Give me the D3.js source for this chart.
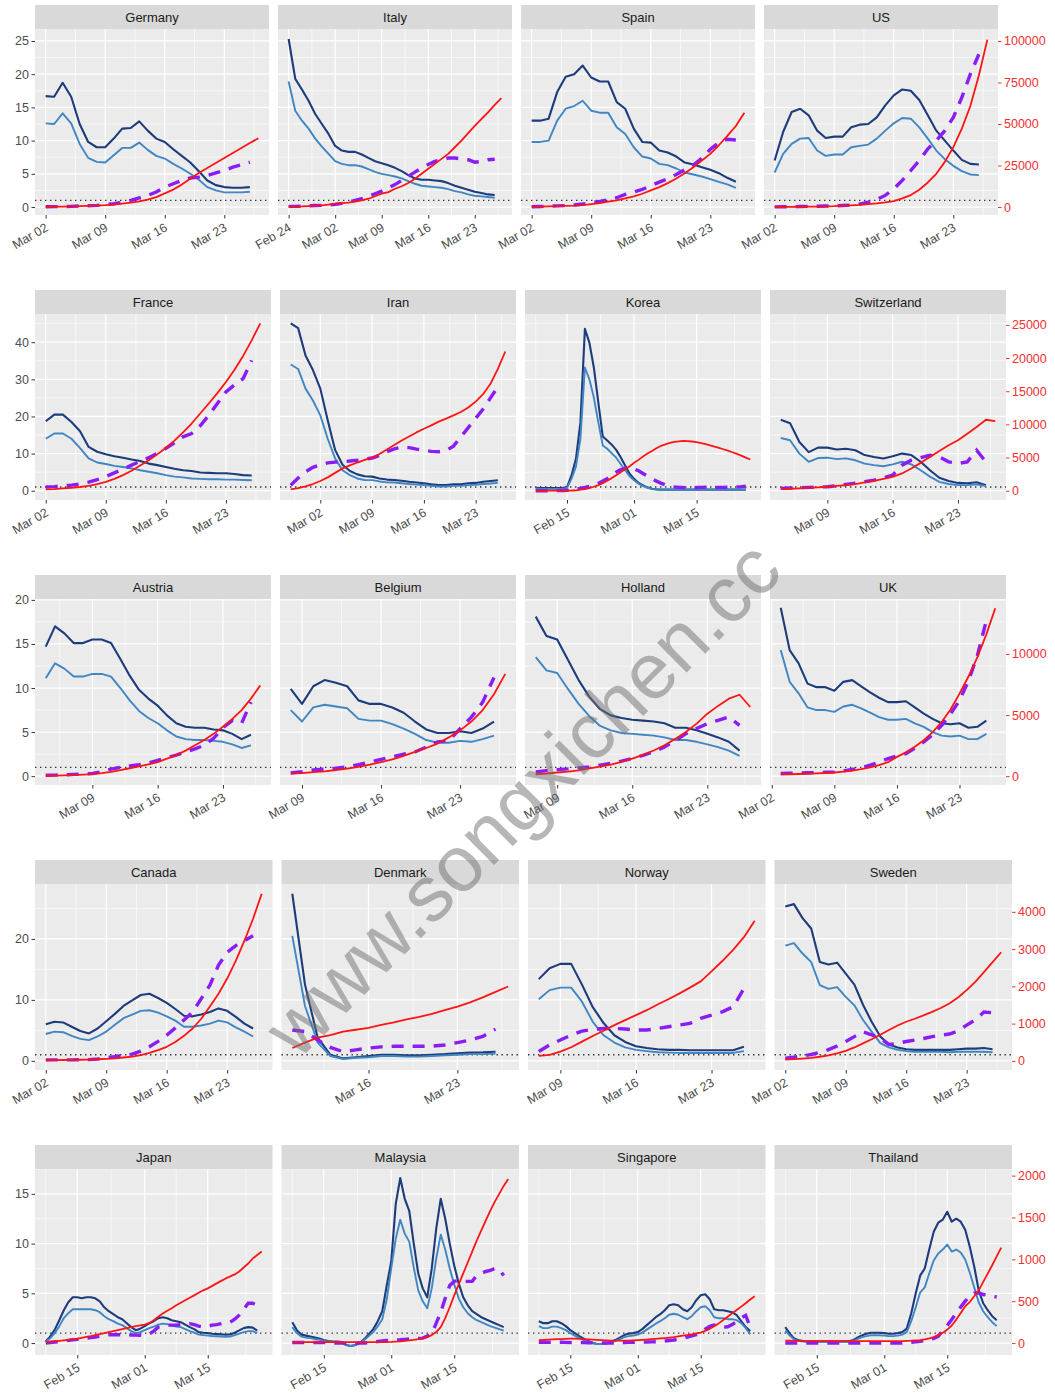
<!DOCTYPE html>
<html>
<head>
<meta charset="utf-8">
<script src="https://cdn.jsdelivr.net/npm/d3@7"></script>
<style>
  body { margin: 0; background: #fff; }
  text { font-family: "Liberation Sans", Arial, sans-serif; }
</style>
</head>
<body>
<div id="chart"></div>
<script>
// facets, in reading order (4 per row)
const countries = ["Germany", "Italy", "Spain", "US",
  "France", "Iran", "Korea", "Switzerland",
  "Austria", "Belgium", "Holland", "UK",
  "Canada", "Denmark", "Norway", "Sweden",
  "Japan", "Malaysia", "Singapore", "Thailand"];

// first day of each country's series (daily values follow)
const startDates = ["2020-03-02", "2020-02-24", "2020-03-02", "2020-03-02",
  "2020-03-02", "2020-02-27", "2020-02-08", "2020-03-04",
  "2020-03-04", "2020-03-08", "2020-03-07", "2020-03-03",
  "2020-03-02", "2020-03-10", "2020-03-07", "2020-03-02",
  "2020-02-08", "2020-02-08", "2020-02-08", "2020-02-08"];
const lastDay = "2020-03-27";

// x breaks: weekly (Mondays) or 1st/15th of the month
const tickKind = ["week", "week", "week", "week",
  "week", "week", "half", "week",
  "week", "week", "week", "week",
  "week", "week", "week", "week",
  "half", "half", "half", "half"];

// left axis (dark / light blue lines)
const darkBlue = [
  [16.7, 16.6, 18.7, 16.6, 12.5, 9.8, 9.0, 9.0, 10.3, 11.8, 11.9, 12.9, 11.5, 10.3, 9.8, 8.7, 7.7, 6.7, 5.4, 4.0, 3.3, 3.0, 2.9, 2.9, 3.0],
  [25.3, 19.3, 17.7, 16.0, 14.0, 12.5, 11.0, 9.2, 8.5, 8.3, 8.3, 7.9, 7.4, 6.9, 6.6, 6.3, 5.9, 5.4, 4.8, 4.3, 4.1, 4.1, 4.0, 3.9, 3.6, 3.2, 2.9, 2.6, 2.3, 2.1, 1.9, 1.8],
  [13.0, 13.0, 13.3, 17.3, 19.6, 20.0, 21.3, 19.5, 18.9, 18.9, 15.8, 14.8, 11.8, 9.8, 9.7, 8.5, 8.2, 7.6, 6.7, 6.4, 6.0, 5.6, 5.1, 4.4, 3.8],
  [7.0, 11.3, 14.3, 14.8, 13.8, 11.5, 10.4, 10.6, 10.6, 12.0, 12.4, 12.5, 13.5, 15.3, 16.8, 17.7, 17.5, 16.1, 13.8, 11.5, 10.0, 8.5, 7.1, 6.5, 6.4],
  [18.7, 20.5, 20.5, 18.5, 16.0, 11.8, 10.5, 9.8, 9.3, 8.9, 8.4, 8.0, 7.3, 6.9, 6.4, 5.9, 5.5, 5.3, 4.9, 4.8, 4.7, 4.7, 4.5, 4.2, 4.1],
  [45.1, 43.8, 36.4, 32.5, 27.5, 19.0, 11.0, 7.0, 5.3, 4.4, 3.9, 3.8, 3.3, 3.0, 2.9, 2.7, 2.4, 2.2, 2.0, 1.7, 1.5, 1.5, 1.7, 1.7, 2.0, 2.1, 2.4, 2.6, 2.8],
  [0.8, 0.7, 0.7, 0.7, 0.7, 0.7, 0.7, 1.0, 4.1, 8.6, 18.4, 43.6, 39.9, 33.2, 23.8, 14.6, 13.5, 12.4, 11.0, 9.0, 6.8, 4.6,
   3.2, 2.1, 1.4, 0.9, 0.54, 0.36, 0.3, 0.3, 0.3, 0.3, 0.3, 0.3, 0.3, 0.3, 0.3, 0.3, 0.3, 0.3, 0.3, 0.3, 0.3, 0.3, 0.3, 0.3, 0.3, 0.3],
  [19.1, 18.2, 13.1, 10.4, 11.6, 11.6, 11.1, 11.3, 10.9, 9.6, 9.1, 8.7, 9.3, 10.0, 9.6, 7.8, 5.5, 3.5, 2.6, 2.1, 2.0, 2.3, 1.5],
  [14.7, 17.0, 16.2, 15.1, 15.1, 15.5, 15.5, 15.1, 13.3, 11.4, 9.8, 8.8, 8.0, 6.9, 6.0, 5.6, 5.5, 5.5, 5.3, 5.2, 4.8, 4.2, 4.7],
  [9.9, 8.2, 10.2, 10.9, 10.6, 10.2, 8.6, 8.2, 8.2, 7.8, 7.2, 6.2, 5.3, 4.9, 4.9, 5.1, 4.9, 5.4, 6.2],
  [18.1, 15.9, 15.5, 13.2, 10.9, 9.0, 7.6, 6.9, 6.6, 6.4, 6.3, 6.2, 6.0, 5.5, 5.5, 5.2, 4.8, 4.4, 3.9, 2.9],
  [19.1, 14.3, 12.8, 10.5, 10.1, 10.1, 9.7, 10.7, 10.9, 10.2, 9.5, 8.9, 8.4, 8.4, 8.5, 7.8, 7.1, 6.5, 6.0, 5.9, 6.0, 5.5, 5.6, 6.3],
  [6.0, 6.4, 6.3, 5.6, 4.9, 4.5, 5.3, 6.5, 7.7, 9.0, 9.9, 10.8, 11.0, 10.3, 9.5, 8.5, 7.4, 7.3, 7.6, 8.0, 8.6, 8.2, 7.2, 6.1, 5.3],
  [27.4, 12.5, 3.8, 1.0, 0.4, 0.6, 0.8, 1.0, 1.0, 0.9, 0.9, 1.0, 1.1, 1.25, 1.35, 1.4, 1.5],
  [13.4, 15.2, 15.9, 15.9, 12.5, 8.8, 6.2, 4.2, 3.1, 2.4, 2.1, 1.9, 1.8, 1.8, 1.75, 1.75, 1.75, 1.75, 1.75, 2.3],
  [25.3, 25.7, 23.4, 21.7, 16.2, 15.8, 16.1, 14.3, 12.5, 9.2, 6.4, 4.0, 2.7, 2.2, 1.9, 1.8, 1.8, 1.8, 1.8, 1.8, 1.9, 2.0, 2.0, 2.1, 1.9],
  [0.17, 0.67, 1.35, 2.3, 3.3, 4.1, 4.6, 4.6, 4.5, 4.6, 4.6, 4.5, 4.2, 3.6, 3.2, 2.9, 2.6, 2.4, 2.0, 1.6, 1.3, 1.45,
   1.7, 2.0, 2.2, 2.5, 2.6, 2.5, 2.3, 2.2, 2.1, 1.85, 1.6, 1.4, 1.1, 1.04, 1.0, 0.94, 0.9, 0.87, 0.84, 0.87, 1.04, 1.28, 1.5, 1.6, 1.55, 1.25],
  [2.1, 1.3, 0.85, 0.75, 0.65, 0.55, 0.45, 0.3, 0.2, 0.15, 0.15, 0.1, -0.2, -0.3, -0.2, 0.0, 0.4, 0.9, 1.4, 2.2, 3.2, 5.8,
   8.2, 14.0, 16.6, 14.5, 13.3, 10.0, 7.0, 5.5, 4.6, 7.5, 11.5, 14.5, 12.5, 10.0, 7.8, 6.0, 4.6, 3.8, 3.2, 2.9, 2.6, 2.4, 2.2, 2.0, 1.8, 1.6],
  [2.2, 2.0, 2.0, 2.2, 2.2, 2.0, 1.7, 1.3, 1.0, 0.7, 0.45, 0.2, 0.0, -0.1, -0.1, -0.05, 0.1, 0.3, 0.55, 0.8, 0.95, 1.0,
   1.1, 1.4, 1.8, 2.2, 2.6, 2.9, 3.3, 3.8, 3.9, 3.8, 3.4, 3.2, 3.6, 4.3, 4.8, 4.9, 4.4, 3.4, 3.3, 3.3, 3.2, 3.1, 2.8, 2.2, 1.6, 1.2],
  [1.6, 0.95, 0.45, 0.27, 0.2, 0.17, 0.17, 0.17, 0.17, 0.17, 0.17, 0.17, 0.17, 0.17, 0.17, 0.27, 0.54, 0.77, 0.94, 1.04, 1.04, 1.04,
   1.0, 0.94, 0.94, 1.0, 1.1, 1.45, 3.0, 5.0, 6.8, 7.5, 9.4, 11.2, 12.1, 12.4, 13.2, 12.2, 12.5, 12.2, 11.4, 9.7, 7.7, 5.3, 4.0, 3.3, 2.7, 2.3]
];

const lightBlue = [
  [12.6, 12.5, 14.1, 12.6, 9.5, 7.4, 6.8, 6.7, 7.8, 8.9, 8.9, 9.7, 8.6, 7.7, 7.3, 6.5, 5.8, 5.0, 4.1, 3.0, 2.5, 2.2, 2.2, 2.2, 2.3],
  [18.9, 14.5, 13.0, 11.8, 10.3, 9.1, 8.0, 6.9, 6.5, 6.3, 6.3, 6.1, 5.7, 5.3, 5.0, 4.8, 4.6, 4.3, 3.9, 3.5, 3.2, 3.1, 3.0, 2.9, 2.7, 2.4, 2.2, 1.9, 1.7, 1.6, 1.5, 1.4],
  [9.8, 9.8, 10.0, 13.0, 14.8, 15.2, 16.0, 14.5, 14.2, 14.2, 12.0, 11.0, 9.0, 7.6, 7.3, 6.5, 6.3, 5.8, 5.2, 4.9, 4.6, 4.2, 3.8, 3.4, 2.9],
  [5.2, 8.0, 9.5, 10.3, 10.4, 8.5, 7.7, 7.9, 7.9, 9.0, 9.2, 9.4, 10.3, 11.5, 12.6, 13.4, 13.3, 12.0, 10.3, 8.5, 7.2, 6.2, 5.4, 4.9, 4.8],
  [14.0, 15.4, 15.4, 14.0, 11.5, 8.7, 7.6, 7.2, 6.7, 6.4, 6.0, 5.5, 5.1, 4.7, 4.2, 3.8, 3.6, 3.3, 3.2, 3.1, 3.1, 3.0, 3.0, 2.9, 2.8],
  [34.0, 32.8, 27.5, 24.3, 20.3, 14.0, 8.7, 5.5, 4.2, 3.3, 2.9, 2.85, 2.5, 2.25, 2.2, 2.0, 1.8, 1.65, 1.5, 1.3, 1.15, 1.15, 1.3, 1.3, 1.5, 1.6, 1.8, 1.95, 2.1],
  [0.6, 0.5, 0.5, 0.5, 0.5, 0.5, 0.5, 0.8, 3.2, 6.5, 14.0, 33.2, 30.0, 25.1, 18.4, 12.2, 11.3, 10.1, 8.9, 7.2, 5.5, 3.9,
   2.8, 1.9, 1.25, 0.8, 0.5, 0.4, 0.25, 0.25, 0.25, 0.25, 0.25, 0.25, 0.25, 0.25, 0.25, 0.25, 0.25, 0.25, 0.25, 0.25, 0.25, 0.25, 0.25, 0.25, 0.25, 0.25],
  [14.2, 13.6, 10.0, 7.8, 8.8, 8.9, 8.5, 8.7, 8.2, 7.3, 6.9, 6.6, 7.1, 7.8, 7.1, 5.5, 3.8, 2.4, 1.8, 1.5, 1.5, 1.7, 1.25],
  [11.1, 12.8, 12.2, 11.3, 11.3, 11.6, 11.6, 11.3, 10.0, 8.6, 7.4, 6.6, 6.0, 5.2, 4.5, 4.2, 4.1, 4.1, 4.0, 3.9, 3.6, 3.2, 3.5],
  [7.5, 6.2, 7.8, 8.1, 7.9, 7.7, 6.5, 6.3, 6.3, 5.9, 5.4, 4.8, 4.1, 3.8, 3.8, 4.0, 3.9, 4.2, 4.6],
  [13.5, 12.0, 11.7, 9.9, 8.2, 6.8, 5.7, 5.2, 4.9, 4.8, 4.7, 4.6, 4.4, 4.1, 4.1, 3.9, 3.6, 3.3, 2.9, 2.3],
  [14.3, 10.7, 9.4, 7.8, 7.5, 7.5, 7.3, 7.9, 8.1, 7.7, 7.2, 6.7, 6.4, 6.4, 6.5, 6.0, 5.6, 5.0, 4.6, 4.5, 4.6, 4.2, 4.2, 4.8],
  [4.4, 4.8, 4.7, 4.1, 3.6, 3.4, 4.0, 4.8, 5.9, 7.0, 7.6, 8.2, 8.3, 7.9, 7.3, 6.6, 5.6, 5.6, 5.8, 6.1, 6.6, 6.3, 5.5, 4.8, 4.0],
  [20.5, 9.0, 3.0, 0.8, 0.3, 0.5, 0.6, 0.8, 0.8, 0.7, 0.7, 0.8, 0.9, 1.0, 1.1, 1.1, 1.2],
  [10.1, 11.6, 12.0, 12.0, 9.7, 6.4, 4.2, 3.0, 2.2, 1.8, 1.6, 1.4, 1.35, 1.3, 1.3, 1.3, 1.3, 1.3, 1.3, 1.6],
  [18.9, 19.3, 17.6, 16.2, 12.4, 11.8, 12.1, 10.5, 9.1, 6.7, 4.8, 2.9, 2.2, 1.8, 1.6, 1.5, 1.5, 1.5, 1.5, 1.4, 1.5, 1.5, 1.5, 1.5, 1.4],
  [0.1, 0.5, 1.0, 1.7, 2.5, 3.0, 3.4, 3.4, 3.4, 3.4, 3.4, 3.3, 3.1, 2.7, 2.4, 2.2, 1.95, 1.8, 1.5, 1.2, 1.0, 1.1,
   1.3, 1.5, 1.65, 1.85, 1.95, 1.9, 1.75, 1.65, 1.6, 1.4, 1.2, 1.05, 0.85, 0.8, 0.75, 0.7, 0.68, 0.65, 0.63, 0.65, 0.8, 0.95, 1.1, 1.2, 1.2, 1.0],
  [1.6, 1.0, 0.65, 0.55, 0.5, 0.4, 0.35, 0.25, 0.15, 0.1, 0.1, 0.05, -0.2, -0.3, -0.2, 0.0, 0.3, 0.7, 1.1, 1.7, 2.4, 4.4,
   7.5, 10.5, 12.4, 11.0, 10.2, 7.6, 5.3, 4.2, 3.5, 5.5, 8.5, 10.9, 9.4, 7.5, 5.9, 4.5, 3.6, 3.0, 2.6, 2.3, 2.1, 1.9, 1.7, 1.55, 1.4, 1.25],
  [1.7, 1.5, 1.5, 1.65, 1.65, 1.5, 1.3, 1.0, 0.75, 0.5, 0.3, 0.15, 0.0, -0.1, -0.1, -0.05, 0.05, 0.2, 0.4, 0.6, 0.7, 0.75,
   0.85, 1.05, 1.35, 1.65, 1.95, 2.2, 2.5, 2.85, 2.95, 2.85, 2.6, 2.4, 2.7, 3.2, 3.6, 3.7, 3.3, 2.6, 2.5, 2.5, 2.4, 2.4, 2.3, 2.0, 1.5, 0.9],
  [1.25, 0.75, 0.35, 0.2, 0.15, 0.13, 0.13, 0.13, 0.13, 0.13, 0.13, 0.13, 0.13, 0.13, 0.13, 0.2, 0.4, 0.6, 0.7, 0.78, 0.78, 0.78,
   0.75, 0.7, 0.7, 0.75, 0.85, 1.1, 2.2, 3.6, 5.1, 5.6, 7.0, 8.3, 9.0, 9.4, 9.9, 9.2, 9.4, 9.1, 8.4, 7.1, 5.6, 4.1, 3.2, 2.6, 2.1, 1.7]
];

// right axis (red solid line)
const redCases = [
  [150, 200, 260, 350, 500, 650, 850, 1100, 1500, 2000, 2600, 3400, 4500, 6000, 8200, 10500, 13500, 17000, 20500, 23500, 26500, 29500, 32500, 35500, 38500, 41400],
  [200, 300, 400, 600, 800, 1000, 1500, 2000, 2300, 2700, 3300, 4000, 5000, 6500, 8000, 9000, 11000, 12500, 14500, 17000, 20000, 23000, 26000, 29000, 32000, 36000, 40000, 44500, 48800, 53000, 57000, 61500, 65600],
  [200, 280, 400, 520, 680, 880, 1200, 1800, 2400, 3200, 4000, 5200, 6400, 8000, 10000, 12000, 14400, 17200, 20400, 24000, 28000, 32000, 37200, 42800, 48800, 56800],
  [80, 100, 120, 160, 200, 280, 400, 520, 800, 1000, 1300, 1800, 2200, 2800, 3600, 5200, 7200, 10400, 14800, 20000, 27200, 36000, 47200, 60800, 79200, 100800],
  [200, 250, 340, 450, 560, 730, 1000, 1340, 1790, 2350, 3020, 3800, 4590, 5480, 6490, 7560, 8790, 10130, 11640, 13150, 14720, 16400, 18250, 20320, 22670, 25240],
  [200, 390, 670, 1010, 1460, 2010, 2690, 3360, 3810, 4250, 4650, 4980, 5540, 6210, 6880, 7560, 8170, 8790, 9350, 9850, 10410, 10860, 11360, 11870, 12540, 13430, 14550, 16120, 18360, 20990],
  [20, 20, 20, 20, 20, 20, 20, 20, 30, 60, 150, 250, 400, 600, 850, 1150, 1500, 1900, 2350, 2800, 3250, 3700,
   4200, 4650, 5150, 5600, 6000, 6400, 6750, 7000, 7200, 7350, 7450, 7500, 7480, 7420, 7320, 7180, 7020, 6850, 6650, 6450, 6250, 6050, 5800, 5550, 5300, 5000, 4700],
  [250, 300, 350, 420, 500, 600, 720, 850, 1000, 1250, 1500, 1800, 2100, 2600, 3350, 4200, 5100, 6000, 6850, 7600, 8600, 9600, 10700, 10500],
  [36, 50, 72, 94, 123, 166, 252, 360, 505, 649, 793, 973, 1154, 1442, 1730, 2091, 2524, 2956, 3461, 4038, 4687, 5408, 6345, 7426],
  [216, 252, 324, 397, 505, 613, 757, 937, 1154, 1370, 1658, 1983, 2307, 2668, 3172, 3749, 4470, 5408, 6705, 8364],
  [160, 220, 300, 380, 480, 630, 780, 950, 1180, 1440, 1750, 2100, 2530, 3050, 3620, 4300, 5110, 5750, 6340, 6660, 5660],
  [140, 160, 180, 200, 230, 260, 300, 370, 450, 570, 720, 900, 1150, 1580, 1950, 2400, 2940, 3600, 4430, 5450, 6750, 8150, 9740, 11600, 13740],
  [16, 20, 23, 26, 29, 34, 43, 54, 69, 90, 115, 156, 213, 286, 377, 507, 671, 868, 1130, 1457, 1801, 2210, 2685, 3225, 3814, 4485],
  [344, 491, 622, 688, 786, 835, 884, 966, 1031, 1113, 1179, 1260, 1359, 1457, 1572, 1702, 1850, 1997],
  [133, 160, 250, 365, 515, 667, 809, 960, 1093, 1227, 1360, 1511, 1654, 1805, 1965, 2134, 2400, 2680, 2980, 3320, 3760],
  [36, 45, 60, 80, 110, 150, 200, 267, 360, 470, 580, 700, 830, 950, 1050, 1130, 1220, 1316, 1420, 1540, 1700, 1900, 2120, 2380, 2650, 2916],
  [12, 17, 21, 26, 32, 38, 45, 52, 63, 74, 84, 96, 108, 119, 131, 143, 154, 166, 178, 190, 202, 211,
   220, 238, 273, 315, 352, 386, 416, 451, 481, 511, 541, 570, 600, 630, 653, 683, 713, 743, 772, 796, 820, 855, 903, 950, 1010, 1051, 1093],
  [12, 12, 12, 12, 12, 12, 12, 12, 12, 12, 12, 12, 12, 12, 12, 12, 12, 12, 12, 12, 12, 12,
   14, 18, 21, 26, 32, 39, 48, 59, 71, 95, 131, 190, 297, 428, 570, 701, 832, 962, 1093, 1224, 1342, 1461, 1580, 1687, 1782, 1877, 1960],
  [35, 38, 40, 43, 46, 48, 50, 52, 52, 50, 48, 45, 42, 38, 35, 32, 30, 30, 30, 30, 30, 32,
   35, 38, 42, 46, 50, 55, 60, 66, 72, 80, 88, 96, 105, 115, 125, 145, 170, 200, 235, 275, 315, 355, 395, 435, 475, 520, 560],
  [28, 28, 26, 26, 24, 24, 24, 24, 24, 24, 24, 24, 24, 24, 24, 24, 24, 24, 24, 24, 24, 24,
   24, 24, 24, 24, 24, 26, 28, 32, 36, 44, 56, 72, 95, 124, 160, 210, 280, 360, 440, 490, 560, 630, 730, 830, 930, 1035, 1140]
];

// right axis (purple dashed line)
const purpleCases = [
  [200, 250, 300, 400, 600, 800, 1000, 1400, 2000, 2800, 4000, 5500, 7000, 9000, 12000, 14000, 16000, 17500, 18000, 19000, 20500, 22000, 24000, 25500, 27000],
  [400, 400, 500, 700, 900, 1000, 1200, 1600, 2200, 3000, 4000, 5000, 6500, 8000, 9600, 11500, 13500, 16000, 18500, 21000, 23500, 25600, 27500, 28500, 29500, 29500, 29000, 28500, 27000, 27500, 28500, 28800],
  [200, 300, 500, 700, 900, 1200, 1800, 2600, 3400, 4400, 5600, 7600, 9000, 10600, 12800, 15000, 17000, 19600, 22500, 25200, 29500, 34800, 38800, 40800, 40400],
  [100, 150, 200, 300, 400, 500, 600, 700, 900, 1200, 1800, 3000, 4500, 7000, 11000, 16000, 22000, 28000, 35000, 40000, 46000, 54000, 66000, 80000, 92000],
  [560, 620, 730, 840, 1010, 1290, 1680, 2130, 2690, 3250, 3860, 4420, 4980, 5650, 6380, 7220, 8120, 8620, 9790, 11360, 13150, 14890, 15950, 16900, 19650],
  [840, 1900, 2850, 3530, 3920, 4200, 4310, 4370, 4480, 4590, 4760, 4930, 5320, 5880, 6320, 6550, 6490, 6270, 6100, 5930, 5880, 6040, 6720, 8120, 9510, 10910, 12310, 13990, 15670],
  [0, 0, 0, 0, 0, 10, 30, 60, 100, 200, 350, 500, 650, 800, 1100, 1450, 1800, 2300, 2800, 3200, 3350, 3350,
   3300, 3000, 2600, 2200, 1800, 1450, 1150, 900, 700, 580, 520, 480, 460, 460, 480, 500, 520, 520, 510, 500, 500, 520, 550, 580, 620, 700],
  [350, 400, 450, 500, 550, 600, 750, 950, 1150, 1350, 1600, 1950, 2350, 3850, 4600, 5000, 5350, 5100, 4350, 4100, 4350, 6100, 4350],
  [72, 87, 108, 144, 180, 216, 360, 577, 721, 829, 937, 1082, 1298, 1514, 1730, 1983, 2235, 2524, 3100, 3966, 4542, 4326, 6056],
  [274, 361, 505, 577, 649, 757, 937, 1154, 1370, 1586, 1803, 1983, 2379, 2812, 2884, 3893, 4831, 6056, 8075],
  [350, 450, 540, 600, 680, 760, 900, 1050, 1230, 1440, 1700, 2000, 2390, 2900, 3480, 3900, 4300, 4570, 4840, 4160],
  [220, 240, 260, 280, 300, 320, 350, 430, 550, 700, 900, 1150, 1440, 1650, 1850, 2300, 2800, 3400, 4160, 5100, 6200, 7800, 9870, 12730],
  [26, 26, 26, 26, 29, 33, 49, 82, 115, 147, 180, 262, 377, 524, 688, 884, 1097, 1310, 1670, 2030, 2570, 2914, 3094, 3225, 3356],
  [827, 786, 557, 360, 246, 295, 344, 376, 393, 393, 393, 393, 426, 491, 557, 655, 851],
  [250, 430, 560, 690, 800, 845, 870, 870, 855, 827, 827, 870, 915, 960, 1005, 1138, 1227, 1316, 1450, 1938],
  [71, 100, 130, 170, 230, 300, 400, 520, 650, 780, 700, 600, 440, 470, 520, 560, 600, 650, 690, 720, 800, 960, 1100, 1310, 1290],
  [0, 6, 12, 18, 24, 32, 39, 44, 51, 59, 65, 71, 81, 90, 100, 100, 100, 100, 100, 97, 95, 93,
   91, 107, 143, 190, 202, 214, 214, 214, 220, 226, 232, 220, 202, 190, 202, 214, 220, 232, 244, 249, 285, 333, 404, 475, 475, 451],
  [6, 6, 6, 6, 6, 6, 6, 6, 4, 2, 0, 0, -6, -6, -6, 0, 0, 6, 12, 18, 24, 30,
   32, 36, 39, 44, 48, 52, 56, 59, 83, 112, 238, 368, 535, 689, 737, 748, 737, 737, 737, 808, 832, 855, 867, 891, 879, 808],
  [10, 10, 10, 10, 10, 10, 8, 6, 5, 5, 5, 3, 2, 0, 0, 0, 0, 2, 4, 6, 8, 8,
   10, 10, 12, 14, 16, 20, 25, 30, 36, 44, 55, 70, 85, 100, 125, 165, 200, 215, 205, 190, 195, 220, 260, 300, 330, 190],
  [0, 0, 0, 0, 0, 0, 0, 0, 0, 0, 0, 0, 0, 0, 0, 0, 0, 0, 0, 0, 0, 0,
   0, 0, 0, 0, 0, 5, 10, 15, 20, 30, 40, 55, 80, 150, 210, 280, 360, 430, 500, 560, 595, 600, 580, 570, 560, 550]
];

// per facet row: left axis range and breaks, right (secondary) axis factor and breaks
const rowLeftDomain = [[-1.2, 26.8], [-2.5, 47.6], [-1.0, 20.1], [-1.5, 29.0], [-1.2, 17.5]];
const rowLeftTicks = [[0, 5, 10, 15, 20, 25], [0, 10, 20, 30, 40], [0, 5, 10, 15, 20], [0, 10, 20], [0, 5, 10, 15]];
const rowFactor = [4000, 559.7, 721, 163.7, 118.8];
const rowRightTicks = [[0, 25000, 50000, 75000, 100000], [0, 5000, 10000, 15000, 20000, 25000],
  [0, 5000, 10000], [0, 1000, 2000, 3000, 4000], [0, 500, 1000, 1500, 2000]];
const refLine = 1;

const W = 1055, H = 1393;
const rowRightEdge = [998, 1006, 1006, 1012, 1012];
const gap = 9, leftEdge = 35, stripH = 24, rowStep = 285;

const col = { dark: "#1d3c7c", light: "#3f86c2", red: "#ff1414", purple: "#8a1cf5" };
const fontSize = 12.5;

const parse = d3.utcParse("%Y-%m-%d");
const end = parse(lastDay);

const svg = d3.select("#chart").append("svg")
    .attr("width", W)
    .attr("height", H);

countries.forEach((name, i) => {
    const row = Math.floor(i / 4), c = i % 4;
    const top = 5 + rowStep * row;
    const pw = (rowRightEdge[row] - leftEdge - 3 * gap) / 4;
    const x0 = leftEdge + c * (pw + gap);
    const y0 = top + stripH, y1 = top + 210;

    const start = parse(startDates[i]);
    const span = end - start;
    const x = d3.scaleUtc()
        .domain([new Date(+start - span * 0.05), new Date(+end + span * 0.05)])
        .range([x0, x0 + pw]);
    const yL = d3.scaleLinear().domain(rowLeftDomain[row]).range([y1, y0]);
    const f = rowFactor[row];
    const yR = d3.scaleLinear().domain(rowLeftDomain[row].map(v => v * f)).range([y1, y0]);

    const g = svg.append('g');
    g.append('rect')
        .attr('x', x0).attr('y', y0)
        .attr('width', pw).attr('height', y1 - y0)
        .attr('fill', '#EBEBEB');

    // x breaks and minor breaks
    let majors;
    if (tickKind[i] === 'week') {
        majors = d3.utcMonday.range(d3.utcDay.offset(start, -21), d3.utcDay.offset(end, 21));
    } else {
        majors = d3.utcMonth.range(parse("2020-01-01"), parse("2020-05-01"))
            .flatMap(m => [m, d3.utcDay.offset(m, 14)]);
    }
    const [d0, d1] = x.domain();
    const xMinor = d3.pairs(majors).map(([a, b]) => new Date((+a + +b) / 2))
        .filter(d => d >= d0 && d <= d1);
    const xMajor = majors.filter(d => d >= d0 && d <= d1);

    const lt = rowLeftTicks[row];
    const step = lt[1] - lt[0];
    const [l0, l1] = rowLeftDomain[row];
    const yMinor = [...lt, lt[lt.length - 1] + step].map(v => v - step / 2).filter(v => v >= l0 && v <= l1);

    g.append('g').selectAll('line').data(yMinor).join('line')
        .attr('x1', x0).attr('x2', x0 + pw)
        .attr('y1', d => yL(d)).attr('y2', d => yL(d))
        .attr('stroke', '#fff').attr('stroke-width', 0.6);
    g.append('g').selectAll('line').data(xMinor).join('line')
        .attr('x1', d => x(d)).attr('x2', d => x(d))
        .attr('y1', y0).attr('y2', y1)
        .attr('stroke', '#fff').attr('stroke-width', 0.6);
    g.append('g').selectAll('line').data(lt).join('line')
        .attr('x1', x0).attr('x2', x0 + pw)
        .attr('y1', d => yL(d)).attr('y2', d => yL(d))
        .attr('stroke', '#fff').attr('stroke-width', 1.2);
    g.append('g').selectAll('line').data(xMajor).join('line')
        .attr('x1', d => x(d)).attr('x2', d => x(d))
        .attr('y1', y0).attr('y2', y1)
        .attr('stroke', '#fff').attr('stroke-width', 1.2);

    // strip
    g.append('rect')
        .attr('x', x0).attr('y', top)
        .attr('width', pw).attr('height', stripH)
        .attr('fill', '#D9D9D9');
    g.append('text')
        .attr('x', x0 + pw / 2).attr('y', top + stripH / 2)
        .attr('dy', '0.36em')
        .attr('text-anchor', 'middle')
        .attr('font-size', 13)
        .attr('fill', '#1A1A1A')
        .text(name);

    // reference line at 1
    g.append('line')
        .attr('x1', x0).attr('x2', x0 + pw)
        .attr('y1', yL(refLine)).attr('y2', yL(refLine))
        .attr('stroke', '#333').attr('stroke-width', 1.4)
        .attr('stroke-dasharray', '1.4,3.6');

    const dayX = (d, k) => x(d3.utcDay.offset(start, k));
    const lineL = d3.line().x(dayX).y(d => yL(d));
    const lineR = d3.line().x(dayX).y(d => yR(d));

    g.append('path').datum(darkBlue[i]).attr('d', lineL)
        .attr('fill', 'none').attr('stroke', col.dark).attr('stroke-width', 2.1)
        .attr('stroke-linejoin', 'round');
    g.append('path').datum(lightBlue[i]).attr('d', lineL)
        .attr('fill', 'none').attr('stroke', col.light).attr('stroke-width', 1.9)
        .attr('stroke-linejoin', 'round');
    g.append('path').datum(purpleCases[i]).attr('d', lineR)
        .attr('fill', 'none').attr('stroke', col.purple).attr('stroke-width', 3.4)
        .attr('stroke-dasharray', '12,9');
    g.append('path').datum(redCases[i]).attr('d', lineR)
        .attr('fill', 'none').attr('stroke', col.red).attr('stroke-width', 1.8)
        .attr('stroke-linejoin', 'round');

    // x axis
    const xa = g.append('g')
        .attr('transform', `translate(0,${y1})`)
        .call(d3.axisBottom(x).tickValues(xMajor).tickFormat(d3.utcFormat('%b %d')).tickSize(3.5).tickSizeOuter(0));
    xa.select('.domain').remove();
    xa.selectAll('line').attr('stroke', '#333');
    xa.selectAll('text')
        .attr('y', 0).attr('dy', 0)
        .attr('transform', 'translate(3,15) rotate(-30)')
        .attr('text-anchor', 'end')
        .attr('fill', '#4D4D4D')
        .attr('font-size', fontSize)
        .attr('font-family', '"Liberation Sans", Arial, sans-serif');

    if (c === 0) {
        const ya = g.append('g')
            .attr('transform', `translate(${x0},0)`)
            .call(d3.axisLeft(yL).tickValues(lt).tickSize(3.5).tickPadding(2.5));
        ya.select('.domain').remove();
        ya.selectAll('line').attr('stroke', '#333');
        ya.selectAll('text').attr('fill', '#4D4D4D').attr('font-size', fontSize)
            .attr('font-family', '"Liberation Sans", Arial, sans-serif');
    }
    if (c === 3) {
        const ra = g.append('g')
            .attr('transform', `translate(${x0 + pw},0)`)
            .call(d3.axisRight(yR).tickValues(rowRightTicks[row]).tickFormat(d3.format('d')).tickSize(3.5).tickPadding(2.5));
        ra.select('.domain').remove();
        ra.selectAll('line').attr('stroke', '#f03030');
        ra.selectAll('text').attr('fill', '#f03030').attr('font-size', fontSize)
            .attr('font-family', '"Liberation Sans", Arial, sans-serif');
    }
});

// site watermark that sits across the image
svg.append('text')
    .attr('transform', 'translate(522,798) rotate(-45)')
    .attr('text-anchor', 'middle')
    .attr('dy', '0.35em')
    .attr('font-size', 79)
    .attr('fill', '#6f6f6f')
    .attr('fill-opacity', 0.5)
    .text('www.songxichen.cc');
</script>
</body>
</html>
